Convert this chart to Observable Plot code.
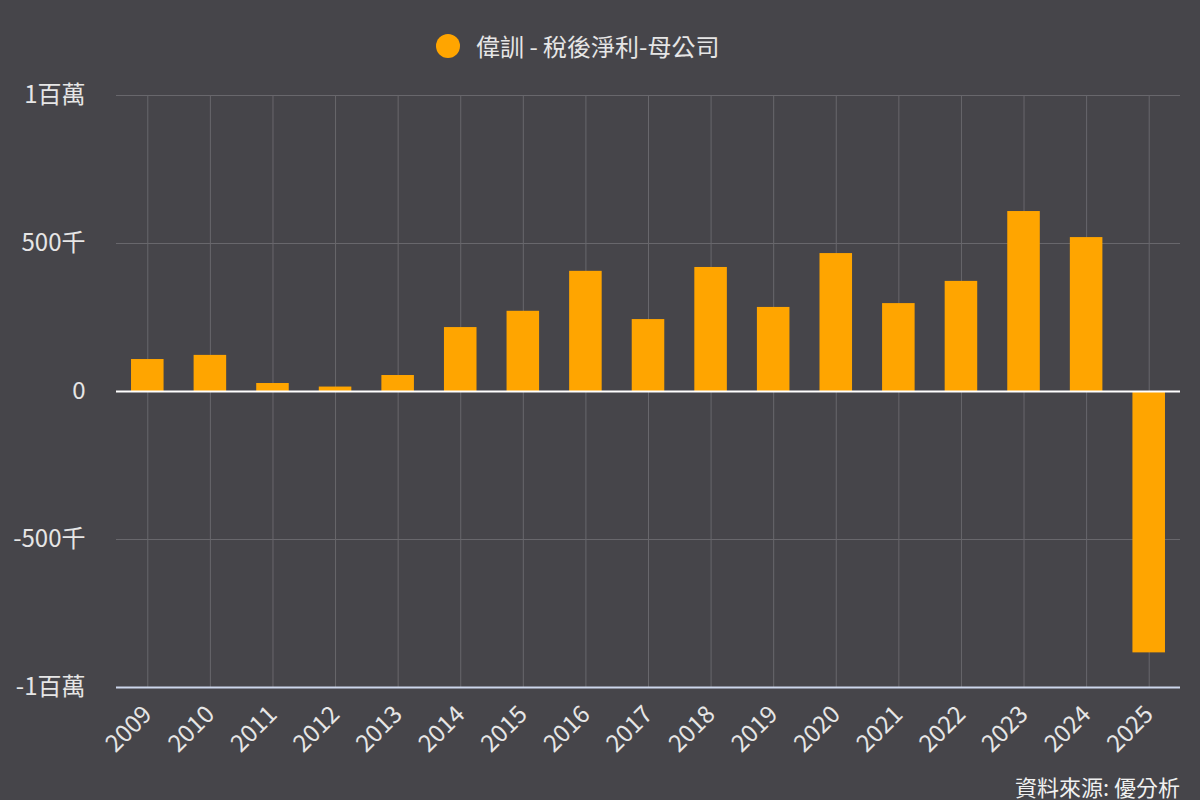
<!DOCTYPE html>
<html>
<head>
<meta charset="utf-8">
<script src="https://cdn.jsdelivr.net/npm/d3@7"></script>
<script src="https://cdn.jsdelivr.net/npm/@observablehq/plot@0.6"></script>
<style>
  html, body { margin: 0; padding: 0; background: #46454a; }
  body { width: 1200px; height: 800px; overflow: hidden; font-family: "Noto Sans CJK TC", "Noto Sans", sans-serif; color: #e6e6e6; position: relative; }
  #legend { height: 70px; position: relative; }
  #legend .dot { position: absolute; left: 436px; top: 34px; width: 24px; height: 24px; border-radius: 50%; background: #FFA500; }
  #legend .lbl { position: absolute; left: 476px; top: 29px; font-size: 24px; line-height: 34px; color: #e6e6e6; white-space: nowrap; }
  #caption { position: absolute; right: 20px; top: 770px; font-size: 22px; line-height: 32px; color: #f0f0f0; }
</style>
</head>
<body>
<div id="legend"><div class="dot"></div><div class="lbl" id="legendText"></div></div>
<div id="chart"></div>
<div id="caption">資料來源: 優分析</div>
<script>
const seriesName = "偉訓 - 稅後淨利-母公司";
const years = ["2009","2010","2011","2012","2013","2014","2015","2016","2017","2018","2019","2020","2021","2022","2023","2024","2025"];
const values = [108000, 122000, 27000, 15000, 54000, 216000, 271000, 406000, 243000, 419000, 284000, 466000, 297000, 372000, 608000, 520000, -883000];
const yTicks = [-1000000, -500000, 0, 500000, 1000000];
const yTickLabels = ["-1百萬", "-500千", "0", "500千", "1百萬"];

document.getElementById("legendText").textContent = seriesName;

const data = years.map((y, i) => ({year: y, value: values[i]}));
const labelOf = new Map(yTicks.map((t, i) => [t, yTickLabels[i]]));

const chart = Plot.plot({
  width: 1200,
  height: 700,
  marginTop: 25,
  marginBottom: 83,
  marginLeft: 116,
  marginRight: 20,
  style: {background: "#46454a", color: "#e6e6e6", fontFamily: "'Noto Sans CJK TC', 'Noto Sans', sans-serif", fontSize: "22px", overflow: "visible"},
  x: {domain: years, paddingInner: 0.48, paddingOuter: 0.24, align: 0.5, round: false},
  y: {domain: [-1000000, 1000000]},
  marks: [
    Plot.ruleY([-500000, 500000, 1000000], {stroke: "#68676c", strokeWidth: 1}),
    Plot.ruleX(years, {x: d => d, y1: -1000000, y2: 1000000, stroke: "#68676c", strokeWidth: 1}),
    Plot.barY(data, {x: "year", y: "value", fill: "#FFA500"}),
    Plot.ruleY([0], {stroke: "#ffffff", strokeWidth: 2}),
    Plot.ruleY([-1000000], {stroke: "#ccd6eb", strokeWidth: 2}),
    Plot.axisY({ticks: yTicks, tickFormat: d => labelOf.get(d), tickSize: 0, tickPadding: 31, fontSize: 24, fill: "#e6e6e6", label: null}),
    Plot.axisX({tickSize: 0, tickPadding: 23, tickRotate: -45, fontSize: 24, fill: "#e6e6e6", label: null})
  ]
});
document.getElementById("chart").appendChild(chart);
</script>
</body>
</html>
